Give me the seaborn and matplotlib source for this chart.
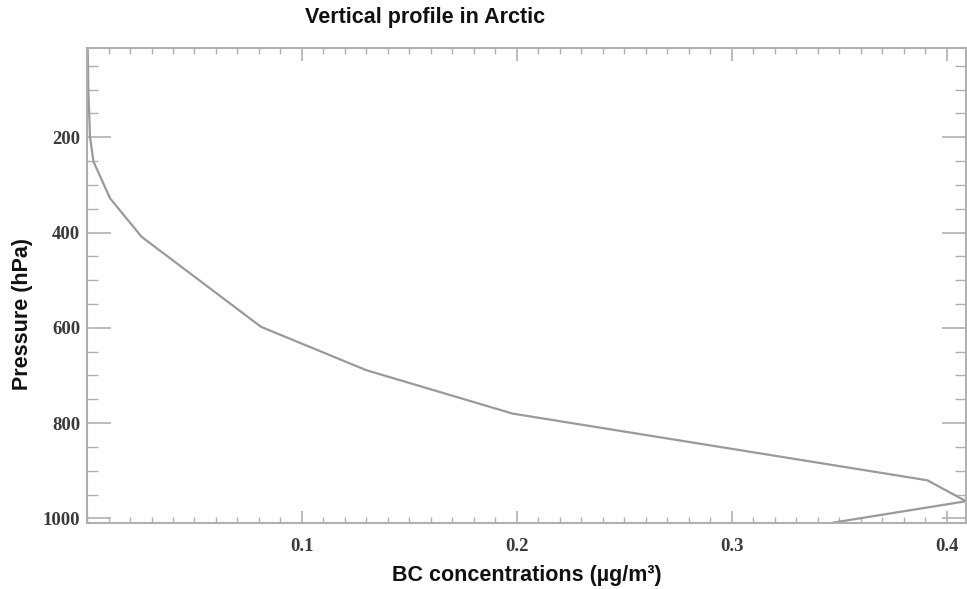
import matplotlib
matplotlib.use("Agg")
import matplotlib.pyplot as plt
import numpy as np
import pandas as pd
import seaborn as sns
from matplotlib.ticker import MultipleLocator

# Profile data (top of atmosphere -> surface)
pressure_hpa = [15, 100, 200, 251, 328, 409, 598, 689, 780, 920, 964, 1009]
bc_conc = [0.0003, 0.0006, 0.0014, 0.003, 0.0107, 0.0254, 0.081, 0.130, 0.198, 0.391, 0.409, 0.347]

y_ticks = [200, 400, 600, 800, 1000]
x_ticks = [0.1, 0.2, 0.3, 0.4]

LINE_COLOR = "#9a9a9a"
AXIS_COLOR = "#b0b0b0"
TICK_TEXT = "#3a3a3a"

sns.set_theme(style="white")
plt.rcParams["font.family"] = ["Liberation Sans", "DejaVu Sans"]

df = pd.DataFrame({"bc": bc_conc, "p": pressure_hpa})

fig = plt.figure(figsize=(9.67, 5.89), dpi=100)
ax = fig.add_axes([0.09, 0.1126, 0.909, 0.806])

sns.lineplot(data=df, x="bc", y="p", sort=False, estimator=None,
             color=LINE_COLOR, lw=1.6, ax=ax)

ax.set_xlim(0.0, 0.409)
ax.set_ylim(1009, 12.5)

ax.set_xticks(x_ticks)
ax.set_xticklabels([f"{v:.1f}" for v in x_ticks])
ax.set_yticks(y_ticks)
ax.set_yticklabels([str(v) for v in y_ticks])
ax.xaxis.set_minor_locator(MultipleLocator(0.01))
ax.yaxis.set_minor_locator(MultipleLocator(50))

for lab in ax.get_xticklabels() + ax.get_yticklabels():
    lab.set_family(["Liberation Serif", "DejaVu Serif"])
    lab.set_fontweight("bold")
    lab.set_fontsize(13.5)
    lab.set_color(TICK_TEXT)

ax.tick_params(axis="y", which="major", direction="in", length=17, width=1.2,
               color=AXIS_COLOR, left=True, right=True, pad=5)
ax.tick_params(axis="y", which="minor", direction="in", length=8, width=1.0,
               color=AXIS_COLOR, left=True, right=True)
ax.tick_params(axis="x", which="major", direction="in", length=9, width=1.2,
               color=AXIS_COLOR, bottom=True, top=True, pad=11)
ax.tick_params(axis="x", which="minor", direction="in", length=4, width=1.0,
               color=AXIS_COLOR, bottom=True, top=True)

for s in ax.spines.values():
    s.set_color(AXIS_COLOR)
    s.set_linewidth(1.5)
    s.set_visible(True)

ax.set_xlabel("")
ax.set_ylabel("")
fig.text(527 / 967, 1 - 576 / 589, "BC concentrations (µg/m³)", ha="center", va="center",
         fontsize=15.5, fontweight="bold", color="#111111")
fig.text(23 / 967, 1 - 314 / 589, "Pressure (hPa)", ha="center", va="center",
         rotation=90, fontsize=15.5, fontweight="bold", color="#111111")
fig.text(425 / 967, 1 - 17 / 589, "Vertical profile in Arctic", ha="center", va="center",
         fontsize=15.5, fontweight="bold", color="#111111")

fig.savefig("out.png", dpi=100)
plt.close(fig)
